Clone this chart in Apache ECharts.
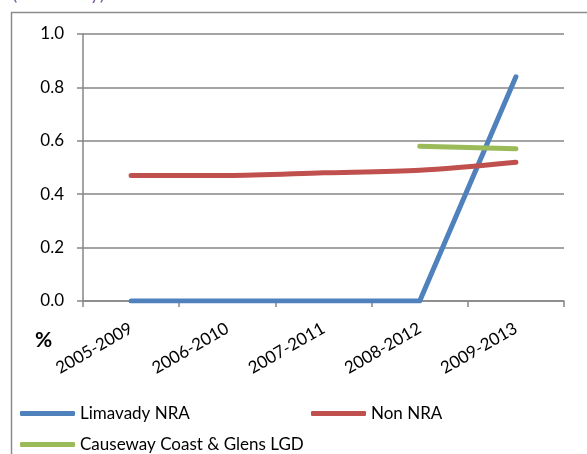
<!DOCTYPE html>
<html>
<head>
<meta charset="utf-8">
<script src="https://cdn.jsdelivr.net/npm/echarts@6/dist/echarts.min.js"></script>
<style>
html,body{margin:0;padding:0;background:#fff;}
#chart{width:587px;height:454px;}
</style>
</head>
<body>
<div id="chart"></div>
<script>
const categories = ['2005-2009', '2006-2010', '2007-2011', '2008-2012', '2009-2013'];
const limavadyNRA = [0, 0, 0, 0, 0.84];
const nonNRA = [0.47, 0.47, 0.48, 0.49, 0.52];
const causewayLGD = [null, null, null, 0.58, 0.57];
const yTicks = { min: 0, max: 1.0, interval: 0.2 };
const seriesNames = ['Limavady NRA', 'Non NRA', 'Causeway Coast & Glens LGD'];
const colors = ['#4F81BD', '#C0504D', '#9BBB59'];

const font = 'Lato, "Open Sans", sans-serif';
const chart = echarts.init(document.getElementById('chart'));
const legendBase = {
  orient: 'horizontal',
  icon: 'roundRect',
  itemWidth: 55,
  itemHeight: 5,
  padding: 0,
  textStyle: { fontFamily: font, fontSize: 17, color: '#000' },
  selectedMode: false
};
chart.setOption({
  animation: false,
  backgroundColor: '#fff',
  color: colors,
  grid: { left: 83, right: 23, top: 34, bottom: 153, containLabel: false },
  legend: [
    Object.assign({}, legendBase, { data: [seriesNames[0]], left: 20, top: 405 }),
    Object.assign({}, legendBase, { data: [seriesNames[1]], left: 311, top: 405 }),
    Object.assign({}, legendBase, { data: [seriesNames[2]], left: 20, top: 436 })
  ],
  graphic: [
    { type: 'rect', shape: { x: 11.5, y: 12.5, width: 620, height: 500 },
      style: { fill: 'none', stroke: '#8c8c8c', lineWidth: 1.5 }, silent: true },
    { type: 'text', left: 35, top: 330,
      style: { text: '%', font: 'bold 21px ' + font, fill: '#000' } },
    { type: 'text', left: 12, top: -16,
      style: { text: '(Limavady)', font: '20px ' + font, fill: '#8064A2' } }
  ],
  xAxis: {
    type: 'category',
    data: categories,
    boundaryGap: true,
    axisLine: { lineStyle: { color: '#868686', width: 1.5 } },
    axisTick: { show: true, length: 6, lineStyle: { color: '#868686', width: 1.5 } },
    axisLabel: { rotate: 30, margin: 26, fontFamily: font, fontSize: 17, color: '#000', interval: 0 },
    splitLine: { show: false }
  },
  yAxis: {
    type: 'value',
    min: yTicks.min, max: yTicks.max, interval: yTicks.interval,
    axisLine: { show: true, lineStyle: { color: '#868686', width: 1.5 } },
    axisTick: { show: true, length: 6, lineStyle: { color: '#868686', width: 1.5 } },
    axisLabel: { margin: 19, fontFamily: font, fontSize: 17, color: '#000',
      formatter: v => v.toFixed(1) },
    splitLine: { show: true, lineStyle: { color: '#868686', width: 1.5 } }
  },
  series: [
    { name: seriesNames[0], type: 'line', data: limavadyNRA, symbol: 'none',
      lineStyle: { width: 5, cap: 'round', join: 'round' } },
    { name: seriesNames[1], type: 'line', data: nonNRA, symbol: 'none', smooth: 0.3,
      lineStyle: { width: 5, cap: 'round', join: 'round' } },
    { name: seriesNames[2], type: 'line', data: causewayLGD, symbol: 'none',
      lineStyle: { width: 5, cap: 'round', join: 'round' } }
  ]
});
</script>
</body>
</html>
